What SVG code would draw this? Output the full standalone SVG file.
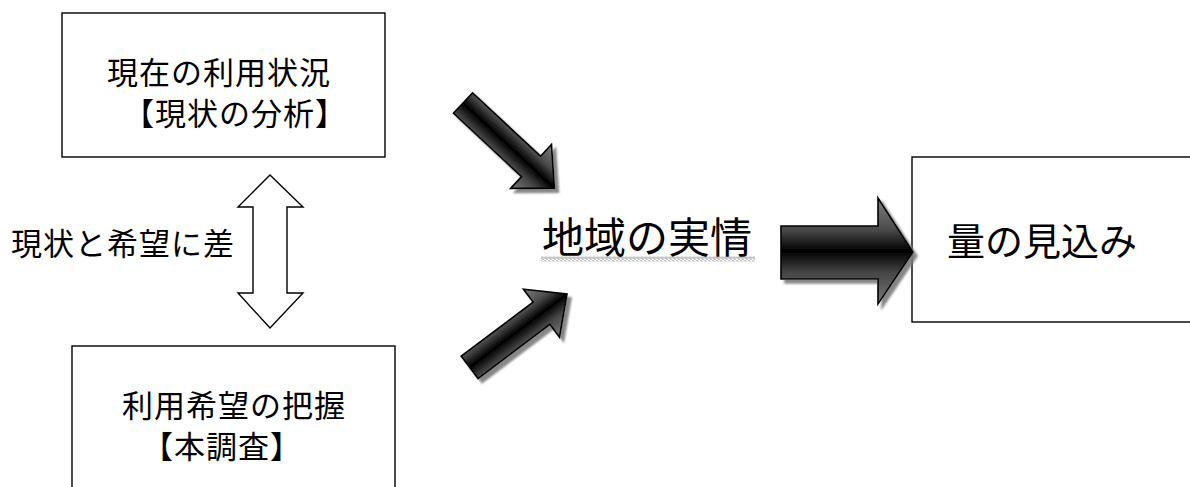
<svg xmlns="http://www.w3.org/2000/svg" width="1190" height="487" viewBox="0 0 1190 487">
<style>
.box{fill:#fff;stroke:#000;stroke-width:1.4}
.t{font-family:"Liberation Sans","Noto Sans CJK JP",sans-serif;fill:#000}
.s{font-size:31px;letter-spacing:1px}
.arr{stroke:#000;stroke-width:1.6;stroke-linejoin:miter}
.arrl{fill:url(#gl)}
.dbl{fill:#fff;stroke:#000;stroke-width:1.4}
</style>
<defs>
<linearGradient id="gl" x1="0" y1="0" x2="0" y2="1">
<stop offset="0" stop-color="#808080"/>
<stop offset="0.3" stop-color="#4a4a4a"/>
<stop offset="0.5" stop-color="#000"/>
<stop offset="0.7" stop-color="#444"/>
<stop offset="1" stop-color="#7a7a7a"/>
</linearGradient>
<filter id="sh" x="-20%" y="-20%" width="150%" height="150%">
<feGaussianBlur in="SourceAlpha" stdDeviation="1"/>
<feOffset dx="4" dy="4" result="o"/>
<feFlood flood-color="#7a7a7a" flood-opacity="0.9"/>
<feComposite in2="o" operator="in" result="s"/>
<feMerge><feMergeNode in="s"/><feMergeNode in="SourceGraphic"/></feMerge>
</filter>
<pattern id="wave" x="0" y="0" width="4" height="5" patternUnits="userSpaceOnUse">
<path d="M0,1.5 L1,0.5 L2,1.5 L3,2.5 L4,1.5 M0,3.5 L1,2.5 L2,3.5 L3,4.5 L4,3.5" fill="none" stroke="#555" stroke-width="0.8"/>
</pattern>
</defs>

<g id="node-current">
<rect class="box" x="62" y="13" width="323" height="144"/>
<text class="t s" x="107" y="83.5">現在の利用状況</text>
<text class="t s" x="123" y="124.5">【現状の分析】</text>
</g>

<g id="node-hope">
<rect class="box" x="72" y="346" width="323" height="160"/>
<text class="t s" x="122" y="417">利用希望の把握</text>
<text class="t s" x="142" y="458">【本調査】</text>
</g>

<g id="node-estimate">
<rect class="box" x="912" y="157" width="300" height="165"/>
<text class="t" x="947" y="254.5" font-size="38">量の見込み</text>
</g>

<g id="node-actual">
<text class="t" x="542" y="253" font-size="42">地域の実情</text>
<rect x="541" y="256.5" width="214" height="5" fill="url(#wave)"/>
</g>

<g id="label-gap">
<text class="t s" x="11" y="255">現状と希望に差</text>
</g>

<g id="connectors">
<polygon class="dbl" points="270,175 303,207 287,207 287,293 303,293 270,328 238,293 253,293 253,207 238,207"/>
<g filter="url(#sh)">
<polygon class="arr arrl" transform="translate(463,103) rotate(43)" points="0,-14 93,-14 93,-30 125,0 93,30 93,14 0,14"/>
</g>
<g filter="url(#sh)">
<polygon class="arr arrl" transform="translate(469.6,367.4) rotate(-37)" points="0,-14 90,-14 90,-30 122,0 90,30 90,14 0,14"/>
</g>
<g filter="url(#sh)">
<polygon class="arr arrl" points="781,226 878,226 878,198 913,252 878,304 878,279 781,279"/>
</g>
</g>
</svg>
